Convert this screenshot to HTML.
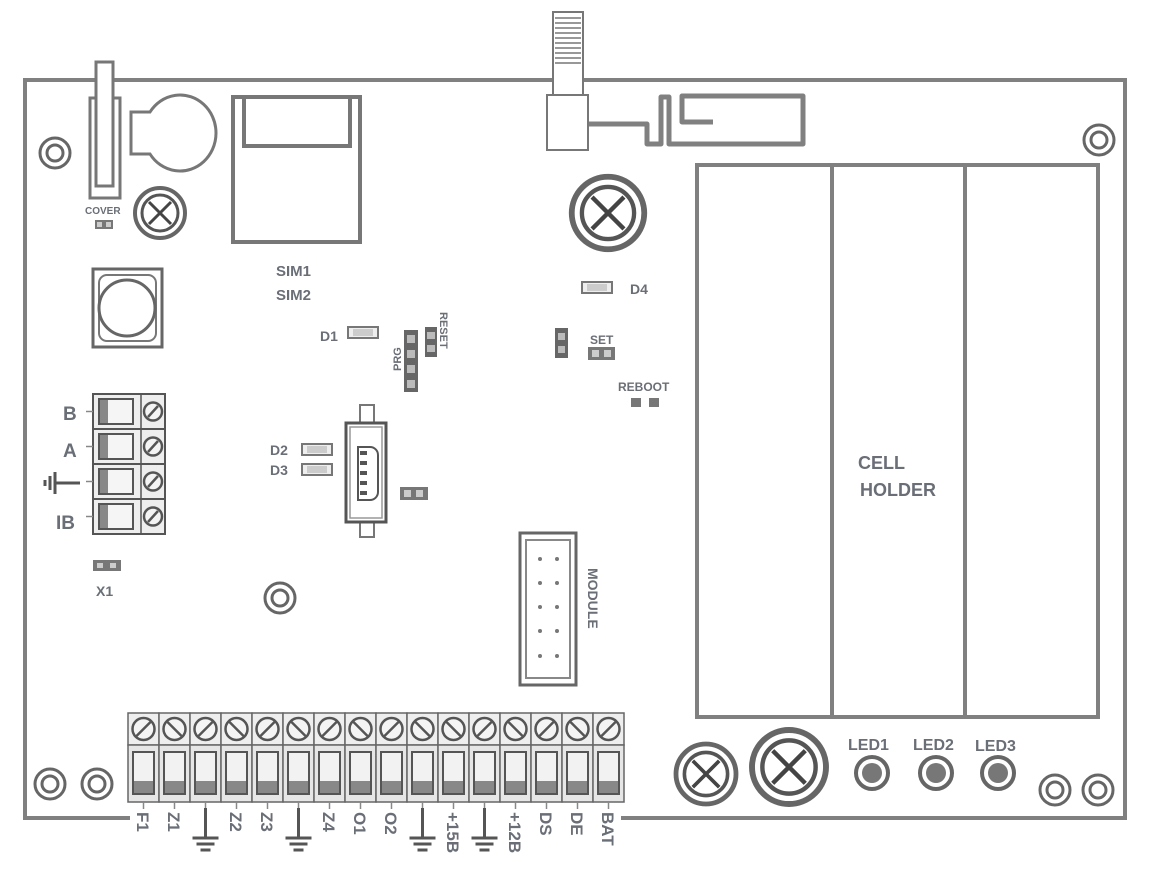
<!DOCTYPE html>
<html><head><meta charset="utf-8"><style>
html,body{margin:0;padding:0;background:#fff;}
svg{display:block;}
text{font-family:"Liberation Sans",sans-serif;font-weight:bold;fill:#6a6e76;}
</style></head><body>
<svg width="1165" height="880" viewBox="0 0 1165 880" xmlns="http://www.w3.org/2000/svg">
<defs>
  <g id="hole"><circle r="15" fill="#fff" stroke="#666" stroke-width="3"/><circle r="8" fill="#fff" stroke="#666" stroke-width="3"/></g>
  <g id="tt">
    <rect x="0" y="713" width="31" height="32" fill="#eee" stroke="#666" stroke-width="1.5"/>
    <circle cx="15.5" cy="729" r="11" fill="#f4f4f4" stroke="#555" stroke-width="2.5"/>
    <rect x="0" y="745" width="31" height="57" fill="#e6e6e6" stroke="#666" stroke-width="1.5"/>
    <rect x="5" y="752" width="21" height="42" fill="#f2f2f2" stroke="#555" stroke-width="2"/>
    <rect x="6" y="781" width="19" height="12" fill="#888"/>
    <line x1="15.5" y1="802" x2="15.5" y2="809" stroke="#888" stroke-width="1.5"/>
  </g>
  <line id="s1" x1="-7" y1="7" x2="7" y2="-7" stroke="#555" stroke-width="2.5"/>
  <line id="s2" x1="-7" y1="-7" x2="7" y2="7" stroke="#555" stroke-width="2.5"/>
  <g id="gnd"><line x1="0" y1="0" x2="0" y2="30" stroke="#555" stroke-width="3"/><line x1="-13" y1="30" x2="13" y2="30" stroke="#555" stroke-width="3"/><line x1="-9" y1="36" x2="9" y2="36" stroke="#555" stroke-width="3"/><line x1="-5" y1="42" x2="5" y2="42" stroke="#555" stroke-width="3"/></g>
  <g id="lt">
    <rect x="0" y="0" width="72" height="35" fill="#eee" stroke="#555" stroke-width="2"/>
    <line x1="48" y1="0" x2="48" y2="35" stroke="#555" stroke-width="1.5"/>
    <rect x="6" y="5" width="34" height="25" fill="#f5f5f5" stroke="#555" stroke-width="2"/>
    <rect x="7" y="6" width="8" height="23" fill="#888"/>
    <circle cx="60" cy="17.5" r="9" fill="#f4f4f4" stroke="#555" stroke-width="2.5"/>
    <line x1="55" y1="23" x2="65" y2="12" stroke="#555" stroke-width="2.5"/>
    <line x1="-7" y1="17.5" x2="0" y2="17.5" stroke="#888" stroke-width="1.5"/>
  </g>
  <g id="scr"><circle r="25" fill="#fff" stroke="#666" stroke-width="4"/><circle r="18" fill="#fff" stroke="#555" stroke-width="3"/><line x1="-11" y1="-11" x2="11" y2="11" stroke="#444" stroke-width="3"/><line x1="-11" y1="11" x2="11" y2="-11" stroke="#444" stroke-width="3"/></g>
  <g id="res"><rect x="0" y="0" width="30" height="11" fill="#eee" stroke="#777" stroke-width="2"/><rect x="5" y="2" width="20" height="7" fill="#ccc"/></g>
</defs>

<path d="M130 818 H25 V80 H1125 V818 H621" fill="none" stroke="#808080" stroke-width="4"/>

<use href="#hole" x="55" y="153"/>
<use href="#hole" x="1099" y="140"/>
<use href="#hole" x="50" y="784"/>
<use href="#hole" x="97" y="784"/>
<use href="#hole" x="280" y="598"/>
<use href="#hole" x="1055" y="790"/>
<use href="#hole" x="1098" y="790"/>

<rect x="90" y="98" width="30" height="100" fill="#fff" stroke="#777" stroke-width="3"/>
<rect x="96" y="62" width="17" height="124" fill="#fff" stroke="#777" stroke-width="3"/>
<text x="85" y="214" font-size="10">COVER</text>
<rect x="95" y="220" width="18" height="9" fill="#777"/><rect x="97" y="222" width="5" height="5" fill="#ccc"/><rect x="106" y="222" width="5" height="5" fill="#ccc"/>

<path d="M150 112 A36 38 0 1 1 150 154 H131 V112 Z" fill="#fff" stroke="#777" stroke-width="3"/>
<use href="#scr" x="160" y="213"/>

<rect x="233" y="97" width="127" height="145" fill="#fff" stroke="#777" stroke-width="4"/>
<rect x="244" y="97" width="106" height="49" fill="#fff" stroke="#777" stroke-width="4"/>
<text x="276" y="276" font-size="15">SIM1</text>
<text x="276" y="300" font-size="15">SIM2</text>

<rect x="93" y="269" width="69" height="78" fill="#fff" stroke="#666" stroke-width="3"/>
<rect x="99" y="275" width="57" height="66" rx="8" fill="#fff" stroke="#777" stroke-width="2"/>
<circle cx="127" cy="308" r="28" fill="#fff" stroke="#666" stroke-width="3"/>

<use href="#lt" x="93" y="394"/>
<use href="#lt" x="93" y="429"/>
<use href="#lt" x="93" y="464"/>
<use href="#lt" x="93" y="499"/>
<text x="63" y="420" font-size="19">B</text>
<text x="63" y="457" font-size="19">A</text>
<text x="56" y="529" font-size="19">IB</text>
<line x1="55" y1="483" x2="80" y2="483" stroke="#555" stroke-width="3"/>
<line x1="55" y1="472" x2="55" y2="494" stroke="#555" stroke-width="3"/>
<line x1="50" y1="476" x2="50" y2="490" stroke="#555" stroke-width="3"/>
<line x1="45" y1="480" x2="45" y2="486" stroke="#555" stroke-width="3"/>
<rect x="93" y="560" width="28" height="11" fill="#777"/><rect x="97" y="563" width="6" height="5" fill="#ccc"/><rect x="110" y="563" width="6" height="5" fill="#ccc"/>
<text x="96" y="596" font-size="14">X1</text>

<use href="#res" x="348" y="327"/>
<text x="320" y="341" font-size="14">D1</text>
<use href="#res" x="302" y="444"/>
<use href="#res" x="302" y="464"/>
<text x="270" y="455" font-size="14">D2</text>
<text x="270" y="475" font-size="14">D3</text>

<rect x="404" y="330" width="14" height="62" fill="#666"/>
<rect x="407" y="335" width="8" height="8" fill="#bbb"/><rect x="407" y="350" width="8" height="8" fill="#bbb"/><rect x="407" y="365" width="8" height="8" fill="#bbb"/><rect x="407" y="380" width="8" height="8" fill="#bbb"/>
<text transform="translate(401,371) rotate(-90)" font-size="11">PRG</text>
<rect x="425" y="327" width="12" height="30" fill="#666"/>
<rect x="427" y="332" width="8" height="7" fill="#bbb"/><rect x="427" y="345" width="8" height="7" fill="#bbb"/>
<text transform="translate(440,312) rotate(90)" font-size="11">RESET</text>

<rect x="360" y="405" width="14" height="132" fill="#fff" stroke="#777" stroke-width="2"/>
<rect x="346" y="423" width="40" height="99" fill="#fff" stroke="#555" stroke-width="3"/>
<rect x="350" y="427" width="32" height="91" fill="none" stroke="#999" stroke-width="1.5"/>
<path d="M358 447 H370 A8 8 0 0 1 378 455 V492 A8 8 0 0 1 370 500 H358 Z" fill="#fff" stroke="#555" stroke-width="2"/>
<g fill="#555"><rect x="360" y="451" width="7" height="4"/><rect x="360" y="461" width="7" height="4"/><rect x="360" y="471" width="7" height="4"/><rect x="360" y="481" width="7" height="4"/><rect x="360" y="491" width="7" height="4"/></g>
<rect x="400" y="487" width="28" height="13" fill="#777"/><rect x="404" y="490" width="7" height="7" fill="#ccc"/><rect x="416" y="490" width="7" height="7" fill="#ccc"/>

<rect x="553" y="12" width="30" height="83" fill="#fff" stroke="#777" stroke-width="2"/>
<g stroke="#777" stroke-width="1.5">
<line x1="555" y1="18" x2="581" y2="18"/><line x1="555" y1="23" x2="581" y2="23"/><line x1="555" y1="28" x2="581" y2="28"/><line x1="555" y1="33" x2="581" y2="33"/><line x1="555" y1="38" x2="581" y2="38"/><line x1="555" y1="43" x2="581" y2="43"/><line x1="555" y1="48" x2="581" y2="48"/><line x1="555" y1="53" x2="581" y2="53"/><line x1="555" y1="58" x2="581" y2="58"/><line x1="555" y1="63" x2="581" y2="63"/></g>
<rect x="547" y="95" width="41" height="55" fill="#fff" stroke="#777" stroke-width="2"/>
<path d="M589 124 H647 V144 H661 V97 H669 V144 H803 V96 H682 V122 H713" fill="none" stroke="#808080" stroke-width="5" stroke-linejoin="round"/>
<use href="#scr" x="608" y="213" transform="translate(608,213) scale(1.45) translate(-608,-213)"/>

<use href="#res" x="582" y="282"/>
<text x="630" y="294" font-size="14">D4</text>
<rect x="555" y="328" width="13" height="30" fill="#666"/><rect x="558" y="333" width="7" height="7" fill="#bbb"/><rect x="558" y="346" width="7" height="7" fill="#bbb"/>
<text x="590" y="344" font-size="12">SET</text>
<rect x="588" y="347" width="27" height="13" fill="#777"/><rect x="592" y="350" width="7" height="7" fill="#ccc"/><rect x="604" y="350" width="7" height="7" fill="#ccc"/>
<text x="618" y="391" font-size="12">REBOOT</text>
<rect x="631" y="398" width="10" height="9" fill="#777"/><rect x="649" y="398" width="10" height="9" fill="#777"/>

<rect x="520" y="533" width="56" height="152" fill="#fff" stroke="#666" stroke-width="3"/>
<rect x="526" y="540" width="44" height="138" fill="#fff" stroke="#888" stroke-width="2"/>
<g fill="#777"><circle cx="540" cy="559" r="2"/><circle cx="557" cy="559" r="2"/><circle cx="540" cy="583" r="2"/><circle cx="557" cy="583" r="2"/><circle cx="540" cy="607" r="2"/><circle cx="557" cy="607" r="2"/><circle cx="540" cy="631" r="2"/><circle cx="557" cy="631" r="2"/><circle cx="540" cy="656" r="2"/><circle cx="557" cy="656" r="2"/></g>
<text transform="translate(588,568) rotate(90)" font-size="14">MODULE</text>

<rect x="697" y="165" width="401" height="552" fill="none" stroke="#808080" stroke-width="4"/>
<line x1="832" y1="165" x2="832" y2="717" stroke="#808080" stroke-width="4"/>
<line x1="965" y1="165" x2="965" y2="717" stroke="#808080" stroke-width="4"/>
<text x="858" y="469" font-size="18">CELL</text>
<text x="860" y="496" font-size="18">HOLDER</text>

<use href="#scr" x="706" y="774" transform="translate(706,774) scale(1.2) translate(-706,-774)"/>
<use href="#scr" x="789" y="767" transform="translate(789,767) scale(1.48) translate(-789,-767)"/>
<text x="848" y="750" font-size="16">LED1</text>
<text x="913" y="750" font-size="16">LED2</text>
<text x="975" y="751" font-size="16">LED3</text>
<circle cx="872" cy="773" r="16" fill="#fff" stroke="#666" stroke-width="4"/><circle cx="872" cy="773" r="10" fill="#777"/>
<circle cx="936" cy="773" r="16" fill="#fff" stroke="#666" stroke-width="4"/><circle cx="936" cy="773" r="10" fill="#777"/>
<circle cx="998" cy="773" r="16" fill="#fff" stroke="#666" stroke-width="4"/><circle cx="998" cy="773" r="10" fill="#777"/>

<use href="#tt" x="128"/><use href="#tt" x="159"/><use href="#tt" x="190"/><use href="#tt" x="221"/>
<use href="#tt" x="252"/><use href="#tt" x="283"/><use href="#tt" x="314"/><use href="#tt" x="345"/>
<use href="#tt" x="376"/><use href="#tt" x="407"/><use href="#tt" x="438"/><use href="#tt" x="469"/>
<use href="#tt" x="500"/><use href="#tt" x="531"/><use href="#tt" x="562"/><use href="#tt" x="593"/>
<use href="#s1" x="143.5" y="729"/><use href="#s2" x="174.5" y="729"/><use href="#s1" x="205.5" y="729"/><use href="#s2" x="236.5" y="729"/>
<use href="#s1" x="267.5" y="729"/><use href="#s2" x="298.5" y="729"/><use href="#s1" x="329.5" y="729"/><use href="#s2" x="360.5" y="729"/>
<use href="#s1" x="391.5" y="729"/><use href="#s2" x="422.5" y="729"/><use href="#s2" x="453.5" y="729"/><use href="#s1" x="484.5" y="729"/>
<use href="#s2" x="515.5" y="729"/><use href="#s1" x="546.5" y="729"/><use href="#s2" x="577.5" y="729"/><use href="#s1" x="608.5" y="729"/>

<g font-size="17">
<text transform="translate(137,812) rotate(90)">F1</text>
<text transform="translate(168,812) rotate(90)">Z1</text>
<text transform="translate(230,812) rotate(90)">Z2</text>
<text transform="translate(261,812) rotate(90)">Z3</text>
<text transform="translate(323,812) rotate(90)">Z4</text>
<text transform="translate(354,812) rotate(90)">O1</text>
<text transform="translate(385,812) rotate(90)">O2</text>
<text transform="translate(447,812) rotate(90)">+15B</text>
<text transform="translate(509,812) rotate(90)">+12B</text>
<text transform="translate(540,812) rotate(90)">DS</text>
<text transform="translate(571,812) rotate(90)">DE</text>
<text transform="translate(602,812) rotate(90)">BAT</text>
</g>
<use href="#gnd" x="205.5" y="808"/>
<use href="#gnd" x="298.5" y="808"/>
<use href="#gnd" x="422.5" y="808"/>
<use href="#gnd" x="484.5" y="808"/>
</svg>
</body></html>
